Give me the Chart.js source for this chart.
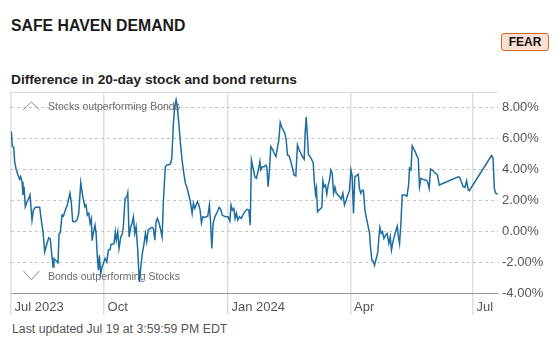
<!DOCTYPE html>
<html>
<head>
<meta charset="utf-8">
<script src="https://cdn.jsdelivr.net/npm/chart.js@4.4.1/dist/chart.umd.min.js"></script>
<style>
  html, body { margin: 0; padding: 0; background: #fff; }
  body { width: 558px; height: 355px; position: relative; overflow: hidden; font-family: "Liberation Sans", Arial, sans-serif; }
  #title { position: absolute; left: 11px; top: 17.7px; font-size: 15.8px; line-height: 15.8px; font-weight: bold; color: #1a1a1a; white-space: nowrap; }
  #subtitle { position: absolute; left: 11px; top: 72.7px; font-size: 13.7px; line-height: 13.7px; font-weight: bold; color: #222; white-space: nowrap; }
  #badge { position: absolute; left: 501px; top: 33px; width: 46px; height: 16px; border: 1px solid #d2691e; border-radius: 3px; background: #fde0d4; color: #111; font-size: 12px; font-weight: bold; line-height: 16px; text-align: center; }
  #footer { position: absolute; left: 12px; top: 322.9px; font-size: 12.3px; line-height: 12.3px; color: #555; white-space: nowrap; }
  #chart { position: absolute; left: 0; top: 88px; }
</style>
</head>
<body>
<div id="title">SAFE HAVEN DEMAND</div>
<div id="badge">FEAR</div>
<div id="subtitle">Difference in 20-day stock and bond returns</div>
<canvas id="chart" width="558" height="230"></canvas>
<div id="footer">Last updated Jul 19 at 3:59:59 PM EDT</div>
<script>
// Days since 2023-07-01
const days = [23.2,24.0,25.0,25.7,26.9,28.2,29.5,30.2,31.2,31.9,
32.7,33.6,34.9,36.2,37.1,38.6,39.6,41.1,43.1,44.3,
45.5,46.8,48.0,49.7,51.0,52.2,53.2,54.2,54.9,56.2,
57.9,58.7,59.6,60.9,61.9,63.3,64.8,66.8,67.8,68.8,
70.3,72.0,73.3,74.8,76.3,77.8,78.7,79.7,80.7,81.7,
82.7,83.2,84.1,85.4,86.2,87.1,87.9,88.6,89.6,90.6,
91.6,92.8,94.1,95.3,96.6,97.3,98.6,99.5,100.5,101.2,
102.3,103.2,104.5,105.7,106.4,107.7,109.0,109.7,110.7,111.9,
112.9,113.9,114.9,115.9,117.1,118.3,119.4,120.5,121.8,122.8,
123.8,124.8,126.3,127.8,128.7,129.8,130.7,131.7,133.0,134.2,
135.2,136.2,137.6,138.7,140.2,141.4,142.4,143.6,144.6,145.6,
146.3,147.6,148.8,150.0,151.3,152.5,153.8,155.0,156.2,157.5,
158.4,159.5,160.4,161.4,162.5,163.4,164.4,165.4,166.6,167.9,
169.1,170.3,171.1,172.1,173.1,174.0,175.3,176.6,177.5,178.8,
179.8,181.2,182.7,184.2,185.5,186.4,187.4,188.5,189.4,190.4,
191.4,192.6,193.9,195.1,196.6,198.1,199.6,200.6,201.5,202.8,
204.1,205.2,206.7,207.8,208.5,209.7,211.0,212.2,213.0,213.9,
214.9,215.9,217.1,218.4,219.7,220.8,221.9,222.9,223.8,225.1,
226.3,227.3,228.3,229.5,230.8,232.0,233.2,234.5,235.7,236.9,
238.2,239.4,240.7,241.4,242.2,243.1,243.9,245.1,246.4,247.4,
248.3,249.1,249.8,250.6,251.6,252.6,253.8,254.6,255.5,256.5,
257.5,258.5,259.5,260.5,261.5,262.5,263.5,264.5,265.7,266.9,
268.2,269.4,270.6,271.9,273.1,274.3,275.4,276.3,277.3,278.3,
279.3,280.8,281.8,282.8,283.8,284.7,285.8,286.7,288.0,289.2,
289.9,291.0,291.9,292.9,294.2,295.4,296.2,296.9,297.9,298.8,
299.9,301.1,302.3,303.6,304.6,305.5,306.6,307.5,308.5,309.8,
310.5,311.5,312.5,313.5,315.2,317.0,318.2,318.9,320.0,320.9,
322.2,323.4,324.6,325.4,326.3,327.4,329.1,330.8,332.3,333.5,
334.5,336.5,338.2,339.7,341.0,342.7,355.1,356.1,358.8,360.1,
361.3,362.5,363.3,379.8,380.9,381.9,382.8,384.3];

// Stock minus bond 20-day return difference, %
const values = [6.44,5.47,5.43,4.5,3.96,3.63,3.35,3.52,3.2,2.34,
2.87,1.58,1.9,2.12,2.34,0.71,1.36,1.54,1.54,1.54,
0.71,-0.04,-1.34,-0.8,-0.43,-0.52,-1.45,-2.32,-1.77,-1.88,
-2.05,-0.15,-0.11,1.04,0.97,1.36,1.69,2.45,1.8,0.65,
0.6,0.71,1.15,3.13,2.23,1.58,1.69,1.04,1.15,0.5,
0.82,-0.62,-0.15,0.39,-0.15,-1.67,-2.53,-1.56,-2.75,-2.32,
-2.1,-1.77,-1.99,-1.23,-1.19,-0.84,-0.84,-0.8,-0.04,-0.58,
-0.04,-1.12,-0.37,-0.15,0.28,2.12,2.23,2.49,-0.37,0.28,
0.5,0.93,-0.15,0.28,-1.23,-3.29,-2.32,-1.45,-0.8,-0.15,
-0.69,0.06,0.18,0.24,0.18,-0.58,0.6,0.82,0.5,0.06,
-0.37,2.01,4.17,4.28,4.3,4.35,4.72,6.99,8.07,8.5,
8.18,6.99,5.69,4.61,3.74,3.1,2.77,2.34,1.9,1.15,
1.8,1.47,1.69,1.9,1.69,1.36,0.54,0.93,0.89,0.93,
0.97,1.69,0.71,-1.12,0.5,0.82,1.1,1.32,1.54,1.41,
1.04,0.97,0.93,0.93,0.65,1.69,1.36,1.47,0.82,1.15,
0.71,0.93,0.82,1.04,1.25,1.41,1.36,0.39,4.61,4.07,
3.5,3.42,3.96,4.5,3.96,4.17,4.17,4.28,4.13,2.87,
3.96,5.47,5.3,5.04,4.82,5.37,5.91,7.03,6.77,6.55,
6.34,5.91,4.93,4.87,4.5,4.07,3.63,3.57,5.58,5.26,
5.04,4.82,4.65,6.34,7.38,6.12,4.93,4.82,4.61,4.43,
3.1,2.4,2.77,1.25,1.36,1.43,1.54,3.26,2.87,2.98,
2.4,2.98,3.31,3.96,3.74,2.45,2.84,2.45,2.35,2.23,
2.06,2.45,1.69,2.01,2.34,2.62,3.96,3.57,1.15,3.52,
3.57,3.68,2.71,2.45,2.66,2.62,1.36,0.93,0.39,-0.11,
-1.02,-1.88,-1.93,-2.21,-1.77,-1.34,-0.37,0.24,-0.15,-0.04,
-0.47,-0.26,-0.15,-0.8,-0.37,-1.23,-0.69,-0.37,-0.04,0.32,
-0.26,-0.8,0.5,2.34,2.34,2.27,2.98,4.07,3.96,5.52,
5.3,5.08,4.82,4.7,2.87,3.42,3.35,3.31,3.2,2.77,
4.02,3.89,3.74,3.63,2.98,3.05,3.52,3.48,2.87,2.84,
3.26,2.66,2.62,4.89,4.72,2.77,2.45,2.4];

const xTickDays = [23, 92, 184, 275, 366];
const xTickLabels = ['Jul 2023', 'Oct', 'Jan 2024', 'Apr', 'Jul'];
const yTicks = [-4, -2, 0, 2, 4, 6, 8];
const yMin = -4, yMax = 9;
const xMin = 23, xMax = 384.6;
const zoneLabels = ['Stocks outperforming Bonds', 'Bonds outperforming Stocks'];
const zoneLabelValues = [8, -3];

Chart.defaults.font.family = '"Liberation Sans", Arial, sans-serif';

const zonePlugin = {
  id: 'zones',
  beforeDatasetsDraw(chart) {
    const { ctx, chartArea, scales } = chart;
    const L = chartArea.left;
    const yUp = scales.y.getPixelForValue(zoneLabelValues[0]);
    const yDn = scales.y.getPixelForValue(zoneLabelValues[1]);
    ctx.save();
    ctx.strokeStyle = '#8a8a8a';
    ctx.lineWidth = 1;
    ctx.beginPath();
    ctx.moveTo(L + 12.3, yUp + 2.3);
    ctx.lineTo(L + 20.3, yUp - 5.4);
    ctx.lineTo(L + 28.3, yUp + 2.3);
    ctx.stroke();
    ctx.beginPath();
    ctx.moveTo(L + 12.3, yDn - 6.7);
    ctx.lineTo(L + 20.3, yDn + 2.3);
    ctx.lineTo(L + 28.3, yDn - 6.7);
    ctx.stroke();
    ctx.fillStyle = '#6b6b6b';
    ctx.font = '10.5px "Liberation Sans", Arial, sans-serif';
    ctx.textBaseline = 'middle';
    ctx.textAlign = 'left';
    ctx.fillText(zoneLabels[0], L + 37, yUp);
    ctx.fillText(zoneLabels[1], L + 37, yDn);
    ctx.restore();
  }
};

new Chart(document.getElementById('chart'), {
  type: 'line',
  data: {
    datasets: [{
      data: days.map((d, i) => ({ x: d, y: values[i] })),
      borderColor: '#1d6d9f',
      borderWidth: 1.5,
      pointRadius: 0,
      tension: 0,
      fill: false
    }]
  },
  options: {
    responsive: false,
    animation: false,
    devicePixelRatio: 1,
    layout: { padding: { left: 11, top: 4, right: 0, bottom: 0 } },
    plugins: { legend: { display: false }, tooltip: { enabled: false } },
    scales: {
      x: {
        type: 'linear',
        min: xMin,
        max: xMax,
        afterBuildTicks: (s) => { s.ticks = xTickDays.map(v => ({ value: v })); },
        afterFit: (s) => { s.height = 25; s.paddingLeft = 0; s.paddingRight = 0; },
        grid: {
          color: '#dedede',
          lineWidth: 1.5,
          drawTicks: true,
          tickLength: 22,
          tickColor: '#dedede',
          tickWidth: 1.5
        },
        border: { display: true, color: '#9a9a9a', width: 1 },
        ticks: {
          autoSkip: false,
          maxRotation: 0,
          align: 'start',
          padding: -15,
          color: '#555',
          font: { size: 13 },
          callback: (v, i) => ' ' + xTickLabels[i]
        }
      },
      y: {
        type: 'linear',
        position: 'right',
        min: yMin,
        max: yMax,
        afterBuildTicks: (s) => { s.ticks = yTicks.concat([yMax]).map(v => ({ value: v })); },
        afterFit: (s) => { s.width = 60; s.paddingTop = 0; s.paddingBottom = 0; },
        grid: {
          drawTicks: false,
          lineWidth: 1,
          color: (c) => c.tick && c.tick.value === yMax ? '#dcdcdc' : (c.tick && c.tick.value === yMin ? 'rgba(0,0,0,0)' : '#c4c4c4')
        },
        border: {
          display: false,
          dash: (c) => c.tick && c.tick.value === yMax ? [] : [3, 3]
        },
        ticks: {
          padding: 4,
          color: '#555',
          font: { size: 13 },
          callback: (v) => v === yMax ? '' : v.toFixed(2) + '%'
        }
      }
    }
  },
  plugins: [zonePlugin]
});
</script>
</body>
</html>
